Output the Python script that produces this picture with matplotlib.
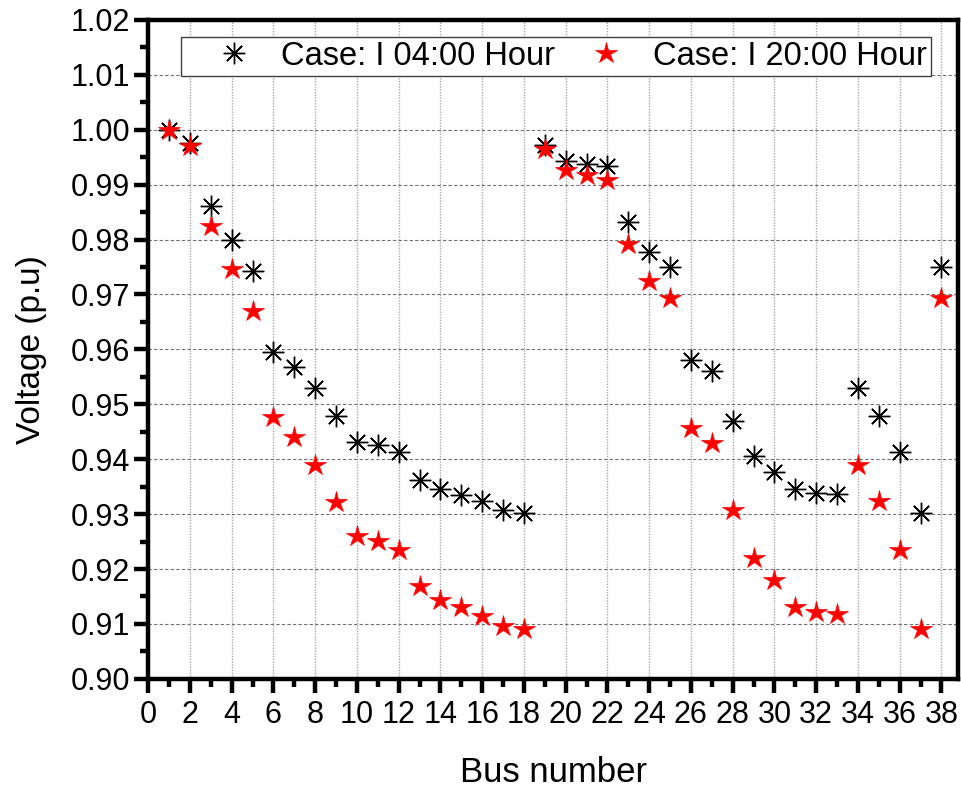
import matplotlib
matplotlib.use("Agg")
import matplotlib.pyplot as plt
from matplotlib.ticker import MultipleLocator, FormatStrFormatter

plt.rcParams['font.family'] = ['Liberation Sans', 'DejaVu Sans']

bus = list(range(1, 39))
v_0400 = [1.0000, 0.9975, 0.9861, 0.9800, 0.9743, 0.9595, 0.9568, 0.9529, 0.9478, 0.9432,
          0.9425, 0.9413, 0.9363, 0.9346, 0.9335, 0.9323, 0.9308, 0.9302, 0.9973, 0.9943,
          0.9937, 0.9933, 0.9832, 0.9777, 0.9750, 0.9580, 0.9560, 0.9470, 0.9405, 0.9376,
          0.9345, 0.9338, 0.9336, 0.9530, 0.9478, 0.9413, 0.9302, 0.9750]
v_2000 = [1.0000, 0.9970, 0.9825, 0.9747, 0.9670, 0.9477, 0.9441, 0.9390, 0.9322, 0.9260,
          0.9251, 0.9235, 0.9169, 0.9144, 0.9130, 0.9115, 0.9096, 0.9090, 0.9965, 0.9927,
          0.9918, 0.9908, 0.9791, 0.9724, 0.9694, 0.9457, 0.9429, 0.9307, 0.9220, 0.9180,
          0.9131, 0.9121, 0.9119, 0.9389, 0.9323, 0.9234, 0.9090, 0.9693]
labels = ["Case: I 04:00 Hour", "Case: I 20:00 Hour"]

fig = plt.figure(figsize=(9.62, 7.94), dpi=100)
ax = fig.add_axes([0.154, 0.145, 0.842, 0.830])

ax.plot(bus, v_0400, linestyle='none', marker=(8, 2, 0), markersize=15.5,
        markeredgewidth=1.0, color='black', label=labels[0], zorder=3)
ax.plot(bus, v_2000, linestyle='none', marker='*', markersize=16,
        markeredgewidth=0.5, color='red', markeredgecolor='red', label=labels[1], zorder=4)

ax.set_xlim(0, 38.8)
ax.set_ylim(0.90, 1.02)
ax.xaxis.set_major_locator(MultipleLocator(2))
ax.xaxis.set_minor_locator(MultipleLocator(1))
ax.yaxis.set_major_locator(MultipleLocator(0.01))
ax.yaxis.set_minor_locator(MultipleLocator(0.005))
ax.yaxis.set_major_formatter(FormatStrFormatter('%.2f'))

ax.grid(True, which='major', axis='y', color='#707070', linestyle=(0, (3, 2)), linewidth=0.8)
ax.grid(True, which='major', axis='x', color='#a8a8a8', linestyle=(0, (1, 1)), linewidth=1.0)
ax.set_axisbelow(True)

for s in ax.spines.values():
    s.set_linewidth(3.2)
ax.tick_params(which='major', direction='out', length=10, width=3.2, labelsize=22)
ax.tick_params(which='minor', direction='out', length=5.5, width=3.2)
ax.tick_params(axis='x', which='major', pad=5)
ax.tick_params(axis='y', which='major', pad=3)
ax.tick_params(top=False, right=False)

ax.set_xlabel("Bus number", fontsize=25, labelpad=19)
ax.set_ylabel("Voltage (p.u)", fontsize=24, labelpad=17)

leg = ax.legend(loc='upper left', bbox_to_anchor=(0.0407, 0.974),
                ncol=2, fontsize=23.5, frameon=True, fancybox=False, borderaxespad=0,
                handletextpad=-0.05, borderpad=0.12, columnspacing=0.05, handlelength=3.0)
leg.get_frame().set_edgecolor('#404040')
leg.get_frame().set_linewidth(1.0)
leg.get_frame().set_alpha(1)

fig.savefig("out.png", dpi=100)
